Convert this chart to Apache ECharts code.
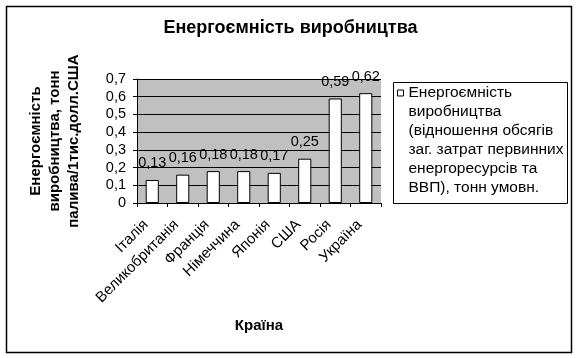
<!DOCTYPE html>
<html>
<head>
<meta charset="utf-8">
<script src="https://cdn.jsdelivr.net/npm/echarts@6/dist/echarts.min.js"></script>
<style>
html,body{margin:0;padding:0;background:#fff;}
#chart{width:581px;height:358px;}
</style>
</head>
<body>
<div id="chart"></div>
<script>
var chartTitle = 'Енергоємність виробництва';
var categories = ['Італія', 'Великобританія', 'Франція', 'Німеччина', 'Японія', 'США', 'Росія', 'Україна'];
var values = [0.13, 0.16, 0.18, 0.18, 0.17, 0.25, 0.59, 0.62];
var seriesName = 'Енергоємність\nвиробництва\n(відношення обсягів\nзаг. затрат первинних\nенергоресурсів та\nВВП), тонн умовн.';
var yAxisName = 'Енергоємність\nвиробництва, тонн\nпалива/1тис.долл.США';
var xAxisName = 'Країна';
var yTicks = [0, 0.1, 0.2, 0.3, 0.4, 0.5, 0.6, 0.7];

var FONT = '"Liberation Sans", Arial, sans-serif';
function fmt(v) { return v === 0 ? '0' : String(v).replace('.', ','); }

var chart = echarts.init(document.getElementById('chart'), null, {renderer: 'canvas'});
chart.setOption({
  animation: false,
  backgroundColor: '#fff',
  textStyle: {fontFamily: FONT, color: '#000'},
  title: {
    text: chartTitle, left: 'center', top: 19, padding: 0,
    textStyle: {fontFamily: FONT, fontSize: 18, fontWeight: 'bold', color: '#000'}
  },
  grid: {
    left: 137, right: 200, top: 79, bottom: 155,
    show: true, backgroundColor: '#c0c0c0', borderWidth: 0
  },
  legend: {
    left: 397, top: -11.5, padding: 0,
    icon: 'rect', itemWidth: 6, itemHeight: 6,
    itemStyle: {color: '#fff', borderColor: '#000', borderWidth: 1},
    textStyle: {fontFamily: FONT, fontSize: 15.5, color: '#000', lineHeight: 19},
    formatter: function (n) { return '\n\n\n\n\n' + n; },
    data: [seriesName]
  },
  xAxis: {
    type: 'category', data: categories,
    name: xAxisName, nameLocation: 'middle', nameGap: 115,
    nameTextStyle: {fontFamily: FONT, fontSize: 15, fontWeight: 'bold', color: '#000'},
    axisLine: {lineStyle: {color: '#000', width: 1}},
    axisTick: {show: true, length: 4, lineStyle: {color: '#000'}},
    axisLabel: {rotate: 45, fontFamily: FONT, fontSize: 15, color: '#000', margin: 13, padding: [0, 9, 0, 0], interval: 0}
  },
  yAxis: {
    type: 'value', min: 0, max: 0.7, interval: 0.1,
    name: yAxisName, nameLocation: 'middle', nameGap: 54, nameRotate: 90,
    nameTextStyle: {fontFamily: FONT, fontSize: 15, fontWeight: 'bold', color: '#000', lineHeight: 19, align: 'center'},
    axisLine: {show: true, lineStyle: {color: '#000', width: 1}},
    axisTick: {show: true, length: 4, lineStyle: {color: '#000'}},
    axisLabel: {fontFamily: FONT, fontSize: 14.5, color: '#000', margin: 11, formatter: fmt},
    splitLine: {show: true, lineStyle: {color: '#000', width: 1}}
  },
  series: [{
    name: seriesName, type: 'bar', data: values, barWidth: '43%',
    itemStyle: {color: '#fff', borderColor: '#000', borderWidth: 1},
    label: {show: true, position: 'top', distance: 9, fontFamily: FONT, fontSize: 14.5, color: '#000',
      formatter: function (p) { return fmt(p.value); }}
  }],
  graphic: [
    {type: 'rect', shape: {x: 6.5, y: 6.5, width: 565, height: 346}, style: {fill: 'none', stroke: '#000', lineWidth: 1.5}, silent: true},
    {type: 'rect', shape: {x: 393.5, y: 82.5, width: 174, height: 121}, style: {fill: 'none', stroke: '#000', lineWidth: 1}, silent: true}
  ]
});
</script>
</body>
</html>
